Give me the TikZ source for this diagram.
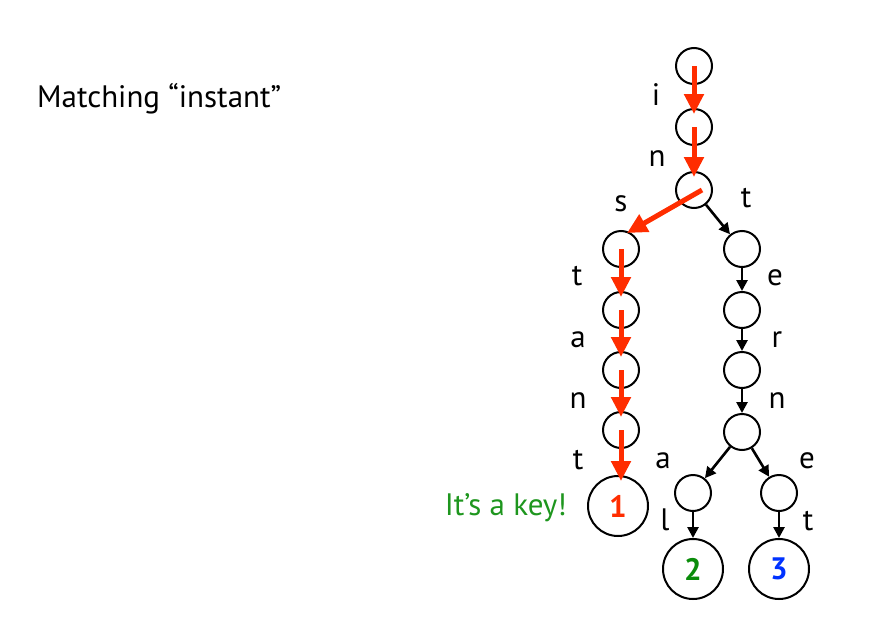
\documentclass[tikz,border=0pt]{standalone}
\usepackage{fontspec}
\setmainfont{PT Sans}
\usetikzlibrary{arrows.meta}
\definecolor{hired}{RGB}{255,45,0}
\definecolor{keygreen}{RGB}{30,150,30}
\definecolor{numgreen}{RGB}{10,140,10}
\definecolor{numblue}{RGB}{0,50,255}
\begin{document}
\begin{tikzpicture}[x=1pt,y=-1pt,
 nd/.style={circle,draw,line width=2pt,minimum size=36pt,inner sep=0pt},
 keynd/.style={circle,draw,line width=2pt,minimum size=60pt,inner sep=0pt,font=\fontsize{31}{31}\selectfont\bfseries},
 lbl/.style={anchor=base,inner sep=0pt,font=\fontsize{31}{31}\selectfont},
 redarr/.style={draw=hired,line width=5pt,-{Triangle[length=20pt,width=19pt]},shorten >=-6pt},
 blkarr/.style={line width=2.6pt,-{Triangle[length=11pt,width=11pt]}}]
\useasboundingbox (0,0) rectangle (881,621);
% nodes
\node[nd] (r0) at (694,66) {};
\node[nd] (r1) at (694,127) {};
\node[nd] (r2) at (694,190) {};
\node[nd] (L1) at (621,249) {};
\node[nd] (L2) at (621,310) {};
\node[nd] (L3) at (621,370) {};
\node[nd] (L4) at (621,430) {};
\node[keynd,text=hired] (k1) at (618,506) {1};
\node[nd] (R1) at (742,249) {};
\node[nd] (R2) at (742,310) {};
\node[nd] (R3) at (742,370) {};
\node[nd] (R4) at (742,432) {};
\node[nd] (A) at (693,493) {};
\node[nd] (E) at (779,493) {};
\node[keynd,text=numgreen] (k2) at (693,569) {2};
\node[keynd,text=numblue] (k3) at (779,569) {3};
% labels
\node[lbl] (li) at (656,105) {i};
\node[lbl] (ln) at (657,166) {n};
\node[lbl] (ls) at (621,211) {s};
\node[lbl] (lt) at (746,207) {t};
\node[lbl] (lt2) at (577,285) {t};
\node[lbl] (la2) at (578,347) {a};
\node[lbl] (ln2) at (578,408) {n};
\node[lbl] (lt3) at (578,469) {t};
\node[lbl] (le) at (775,285) {e};
\node[lbl] (lr) at (777,347) {r};
\node[lbl] (ln3) at (777,408) {n};
\node[lbl] (la) at (663,468) {a};
\node[lbl] (le2) at (807,468) {e};
\node[lbl] (ll) at (665,530) {l};
\node[lbl] (lt4) at (808,530) {t};
\node[lbl,anchor=base west] (title) at (37,107) {Matching “instant”};
\node[lbl,anchor=base east,text=keygreen] (key) at (567,515) {It’s a key!};
% black arrows
\draw[blkarr] (r2) -- (R1);
\draw[blkarr] (R1) -- (R2);
\draw[blkarr] (R2) -- (R3);
\draw[blkarr] (R3) -- (R4);
\draw[blkarr] (R4) -- (A);
\draw[blkarr] (R4) -- (E);
\draw[blkarr] (A) -- (k2);
\draw[blkarr] (E) -- (k3);
% red arrows
\draw[redarr] (r0.center) -- (r1);
\draw[redarr] (r1.center) -- (r2);
\draw[redarr,shorten >=0pt] ([shift={(8,0)}]r2.center) -- ([shift={(6,-16)}]L1.center);
\draw[redarr] (L1.center) -- (L2);
\draw[redarr] (L2.center) -- (L3);
\draw[redarr] (L3.center) -- (L4);
\draw[redarr] (L4.center) -- (L4.center |- k1.north);
\end{tikzpicture}
\end{document}
